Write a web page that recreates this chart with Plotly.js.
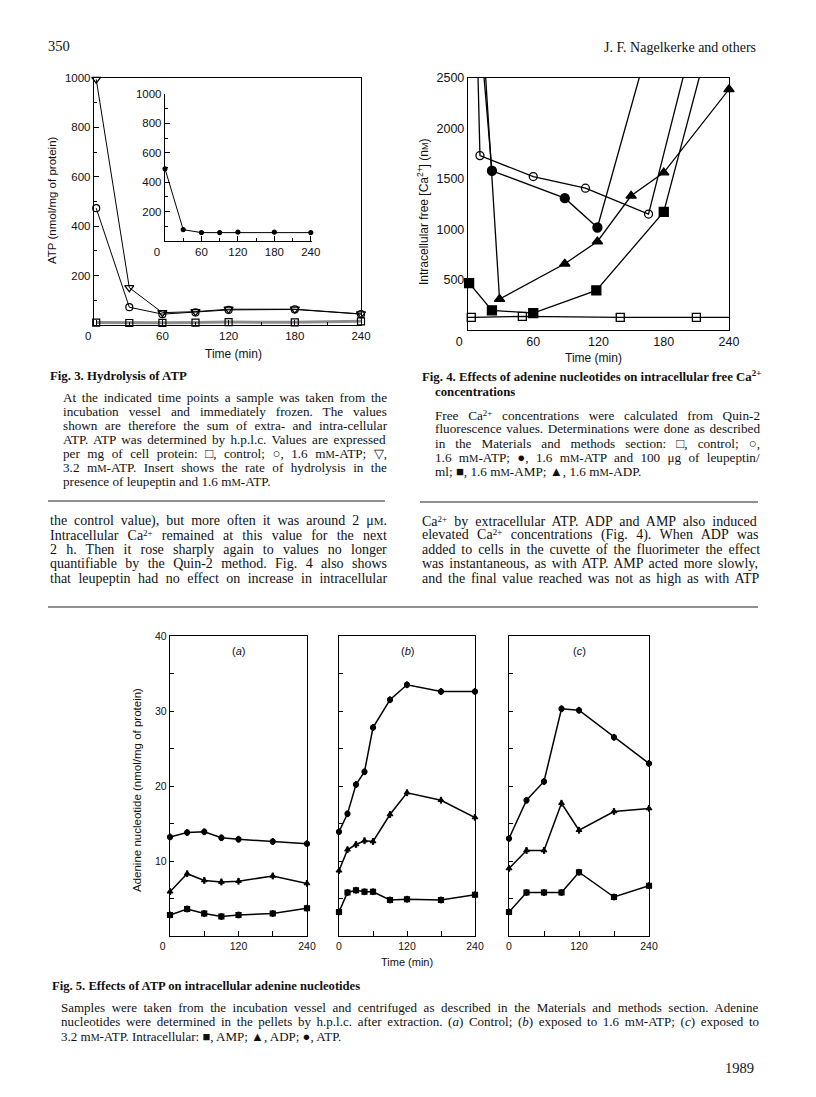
<!DOCTYPE html>
<html><head><meta charset="utf-8">
<script src="https://cdn.plot.ly/plotly-3.0.1.min.js"></script>
<style>html,body{margin:0;padding:0;background:#fff}#chart{width:816px;height:1097px}</style>
</head><body><div id="chart"></div>
<script>
// ---------- Fig. 3 data (ATP, nmol/mg of protein) ----------
const fig3Time = [0, 30, 60, 90, 120, 180, 240];
const fig3Control = [10, 8, 9, 10, 12, 11, 15];
const fig3Atp16 = [473, 72, 44, 51, 61, 63, 44];
const fig3Atp32 = [995, 151, 50, 54, 64, 64, 45];
const fig3InsetTime = [0, 30, 60, 90, 120, 180, 240];
const fig3InsetLeup = [491, 77, 57, 57, 60, 60, 57];
const fig3XTicks = [0, 60, 120, 180, 240];
const fig3YTicks = [200, 400, 600, 800, 1000];

// ---------- Fig. 4 data (intracellular free Ca2+, nM) ----------
const fig4CtrlTime = [0, 3, 50, 140, 210, 240];
const fig4CtrlVals = [125, 125, 135, 125, 125, 125];
const fig4Atp16Time = [9, 11, 60, 108, 166, 200];
const fig4Atp16Vals = [2600, 1730, 1522, 1407, 1150, 2600];
const fig4LeupTime = [14, 22, 89, 119, 160];
const fig4LeupVals = [2600, 1580, 1308, 1017, 2600];
const fig4AmpTime = [1, 22, 60, 118, 180, 215];
const fig4AmpVals = [466, 195, 168, 393, 1172, 2600];
const fig4AdpTime = [15.7, 29, 89, 119, 150, 180, 240];
const fig4AdpVals = [2600, 307, 657, 878, 1331, 1562, 2388];
const fig4XTicks = [0, 60, 120, 180, 240];
const fig4YTicks = [500, 1000, 1500, 2000, 2500];

// ---------- Fig. 5 data (adenine nucleotide, nmol/mg of protein) ----------
const fig5aTime = [0, 30, 60, 90, 120, 180, 240];
const fig5aATP = [13.2, 13.8, 13.9, 13.1, 12.9, 12.6, 12.3];
const fig5aADP = [5.9, 8.3, 7.4, 7.2, 7.3, 8.0, 7.0];
const fig5aAMP = [2.8, 3.6, 3.0, 2.6, 2.8, 3.0, 3.7];
const fig5bTime = [0, 15, 30, 45, 60, 90, 120, 180, 240];
const fig5bATP = [13.9, 16.3, 20.2, 21.9, 27.8, 31.5, 33.5, 32.6, 32.6];
const fig5bADP = [8.7, 11.5, 12.2, 12.7, 12.6, 16.2, 19.1, 18.1, 15.8];
const fig5bAMP = [3.2, 5.8, 6.1, 5.9, 5.9, 4.8, 4.9, 4.8, 5.5];
const fig5cTime = [0, 30, 60, 90, 120, 180, 240];
const fig5cATP = [13.0, 18.1, 20.6, 30.3, 30.1, 26.5, 23.0];
const fig5cADP = [9.0, 11.4, 11.4, 17.7, 14.1, 16.6, 17.0];
const fig5cAMP = [3.2, 5.8, 5.8, 5.8, 8.5, 5.2, 6.7];
const fig5XTicks = [0, 120, 240];
const fig5YTicks = [10, 20, 30, 40];
const panelLabels = ['(<i>a</i>)', '(<i>b</i>)', '(<i>c</i>)'];

// ---------- page geometry helpers ----------
const W = 816, H = 1097;
const PX = p => p / W;
const PY = p => 1 - p / H;
const SANS = 'Liberation Sans, Arial, sans-serif';
const SERIF = 'Liberation Serif, Times New Roman, serif';
const CSERIF = '"Liberation Serif", serif';
const MM = s => 'm<span style="font-size:' + s + 'px">M</span>';
const UM = s => 'μ<span style="font-size:' + s + 'px">M</span>';
const CA = 'Ca<span style="font-size:9px;baseline-shift:4px">2+</span>';
// origin label printed left of the axis corner, as in the original
const originText = ticks => ticks.map((v, i) => i === 0 ? String(v) + '\u00a0'.repeat(5) : String(v));

const traces = [];
function series(x, y, xa, ya, sym, size, opts = {}) {
  traces.push({
    type: 'scatter', mode: 'lines+markers', x, y, xaxis: xa, yaxis: ya,
    cliponaxis: false, hoverinfo: 'skip',
    line: { color: opts.lineColor || '#000', width: opts.lineWidth || 1.2 },
    marker: { symbol: sym, size, color: opts.markerColor || '#000',
      line: { color: opts.markerLine || '#000', width: opts.mlw || 1.2 } },
    error_y: opts.err ? { type: 'constant', value: opts.err, thickness: 2.2, width: 0, color: '#000' } : undefined
  });
}
// Fig 3
series(fig3Time, fig3Control, 'x', 'y', 'square-open', 7, { lineColor: '#8c8c8c', lineWidth: 3, markerLine: '#333', mlw: 1.2 });
series(fig3Time, fig3Atp16, 'x', 'y', 'circle-open', 7, { lineWidth: 1 });
series(fig3Time, fig3Atp32, 'x', 'y', 'triangle-down-open', 8, { lineWidth: 1 });
series(fig3InsetTime, fig3InsetLeup, 'x2', 'y2', 'circle', 4, { lineWidth: 1 });

// Fig 4: lines clipped to the frame, markers only where inside range
function series4(x, y, sym, size, markerOnly) {
  traces.push({ type: 'scatter', mode: 'lines', x, y, xaxis: 'x3', yaxis: 'y3', cliponaxis: true,
    hoverinfo: 'skip', line: { color: '#000', width: 1.3 } });
  const mx = [], my = [];
  x.forEach((v, i) => { if (y[i] <= 2500 && markerOnly(i)) { mx.push(v); my.push(y[i]); } });
  traces.push({ type: 'scatter', mode: 'markers', x: mx, y: my, xaxis: 'x3', yaxis: 'y3', cliponaxis: false,
    hoverinfo: 'skip', marker: { symbol: sym, size, color: '#000', line: { color: '#000', width: 1.3 } } });
}
series4(fig4CtrlTime, fig4CtrlVals, 'square-open', 8, i => i > 0 && i < fig4CtrlTime.length - 1);
series4(fig4Atp16Time, fig4Atp16Vals, 'circle-open', 8, () => true);
series4(fig4LeupTime, fig4LeupVals, 'circle', 9, () => true);
series4(fig4AmpTime, fig4AmpVals, 'square', 9, () => true);
series4(fig4AdpTime, fig4AdpVals, 'triangle-up', 9, () => true);

// Fig 5
const f5 = [
  [fig5aTime, fig5aATP, fig5aADP, fig5aAMP, 'x4', 'y4'],
  [fig5bTime, fig5bATP, fig5bADP, fig5bAMP, 'x5', 'y5'],
  [fig5cTime, fig5cATP, fig5cADP, fig5cAMP, 'x6', 'y6']
];
f5.forEach(([t, atp, adp, amp, xa, ya]) => {
  series(t, atp, xa, ya, 'circle', 5, { lineWidth: 1.5, err: 0.45 });
  series(t, adp, xa, ya, 'triangle-up', 5, { lineWidth: 1.5, err: 0.45 });
  series(t, amp, xa, ya, 'square', 5, { lineWidth: 1.5, err: 0.45 });
});

// ---------- axes ----------
function ax(domain, range, extra = {}) {
  return Object.assign({
    domain, range, showline: true, linecolor: '#000', linewidth: 1.2, mirror: true,
    showgrid: false, zeroline: false, ticks: 'inside', ticklen: 5, tickwidth: 1, tickcolor: '#000',
    tickfont: { family: SANS, size: 11.5, color: '#111' }, fixedrange: true
  }, extra);
}
const minor = (d) => ({ tickmode: 'linear', tick0: 0, dtick: d, ticks: 'inside', ticklen: 3, tickcolor: '#000' });
const f5font = { family: SANS, size: 10.5, color: '#111' };
const f4font = { family: SANS, size: 12.5, color: '#111' };
const layout = {
  width: W, height: H, margin: { l: 0, r: 0, t: 0, b: 0 }, showlegend: false,
  paper_bgcolor: '#fff', plot_bgcolor: 'rgba(0,0,0,0)',
  xaxis: ax([PX(94), PX(361)], [-2, 240], { anchor: 'y', tickmode: 'array', tickvals: fig3XTicks, ticktext: originText(fig3XTicks), minor: minor(30) }),
  yaxis: ax([PY(325), PY(78)], [0, 1000], { anchor: 'x', tickmode: 'array', tickvals: fig3YTicks, minor: minor(100) }),
  xaxis2: ax([PX(165), PX(312)], [0, 242], { anchor: 'y2', mirror: false, tickmode: 'array', tickvals: fig3XTicks, ticktext: originText(fig3XTicks), minor: minor(30) }),
  yaxis2: ax([PY(241), PY(94)], [0, 1000], { anchor: 'x2', mirror: false, tickmode: 'array', tickvals: fig3YTicks, minor: minor(100) }),
  xaxis3: ax([PX(468), PX(729)], [0, 240], { anchor: 'y3', tickmode: 'array', tickvals: fig4XTicks, ticktext: originText(fig4XTicks), ticklen: 0, tickfont: f4font }),
  yaxis3: ax([PY(330), PY(78)], [0, 2500], { anchor: 'x3', tickmode: 'array', tickvals: fig4YTicks, ticklen: 0, tickfont: f4font }),
  xaxis4: ax([PX(170), PX(307)], [0, 240], { anchor: 'y4', tickmode: 'array', tickvals: fig5XTicks, ticktext: originText(fig5XTicks), minor: Object.assign(minor(60), { ticklen: 5 }), tickfont: f5font }),
  yaxis4: ax([PY(936), PY(636)], [0, 40], { anchor: 'x4', tickmode: 'array', tickvals: fig5YTicks, ticklen: 4, minor: Object.assign(minor(5), { ticklen: 4 }), tickfont: f5font }),
  xaxis5: ax([PX(339), PX(475)], [0, 240], { anchor: 'y5', tickmode: 'array', tickvals: fig5XTicks, minor: Object.assign(minor(60), { ticklen: 5 }), tickfont: f5font }),
  yaxis5: ax([PY(936), PY(636)], [0, 40], { anchor: 'x5', tickmode: 'array', tickvals: fig5YTicks, showticklabels: false, ticklen: 4, minor: Object.assign(minor(5), { ticklen: 4 }) }),
  xaxis6: ax([PX(509), PX(649)], [0, 240], { anchor: 'y6', tickmode: 'array', tickvals: fig5XTicks, minor: Object.assign(minor(60), { ticklen: 5 }), tickfont: f5font }),
  yaxis6: ax([PY(936), PY(636)], [0, 40], { anchor: 'x6', tickmode: 'array', tickvals: fig5YTicks, showticklabels: false, ticklen: 4, minor: Object.assign(minor(5), { ticklen: 4 }) }),
  annotations: [],
  shapes: []
};

// ---------- text ----------
function txt(x, y, text, size, opts = {}) {
  layout.annotations.push(Object.assign({
    xref: 'paper', yref: 'paper', x: PX(x), y: PY(y), text, showarrow: false,
    xanchor: 'left', yanchor: 'middle',
    font: { family: opts.family || SERIF, size, color: '#111' }
  }, opts.extra || {}));
}
const ctx = document.createElement('canvas').getContext('2d');
function measureHTML(html, size) {
  let w = 0; const stack = [{ size, italic: false, bold: false }];
  const re = /<(\/?)(\w+)([^>]*)>|([^<]+)/g; let m;
  while ((m = re.exec(html))) {
    const top = stack[stack.length - 1];
    if (m[4] !== undefined) {
      ctx.font = (top.italic ? 'italic ' : '') + (top.bold ? 'bold ' : '') + top.size + 'px ' + CSERIF;
      w += ctx.measureText(m[4]).width;
    } else if (m[1]) { if (stack.length > 1) stack.pop(); }
    else {
      const n = { size: top.size, italic: top.italic, bold: top.bold };
      if (m[2] === 'sup' || m[2] === 'sub') n.size = top.size * 0.7;
      if (m[2] === 'i') n.italic = true;
      if (m[2] === 'b') n.bold = true;
      const fs = /font-size:\s*([\d.]+)px/.exec(m[3]); if (fs) n.size = +fs[1];
      stack.push(n);
    }
  }
  return w;
}
function block(lines, x0, x1, y0, dy, size, lastJustified) {
  lines.forEach((l, i) => {
    const y = y0 + i * dy;
    const justify = lastJustified || i < lines.length - 1;
    if (!justify) { txt(x0, y, l, size); return; }
    const w = measureHTML(l, size);
    const spaces = (l.replace(/<[^>]*>/g, '').match(/ /g) || []).length;
    const ws = spaces ? Math.max(-1, (x1 - x0 - w) / spaces) : 0;
    txt(x0, y, '<span style="word-spacing:' + ws.toFixed(2) + 'px">' + l + '</span>', size);
  });
}

// axis titles
txt(233, 354, 'Time (min)', 12, { family: SANS, extra: { xanchor: 'center' } });
txt(52, 200, 'ATP (nmol/mg of protein)', 11.5, { family: SANS, extra: { xanchor: 'center', textangle: -90 } });
txt(593, 358, 'Time (min)', 12, { family: SANS, extra: { xanchor: 'center' } });
txt(423, 212, 'Intracellular free [Ca<sup>2+</sup>] (n<span style="font-size:9px">M</span>)', 12, { family: SANS, extra: { xanchor: 'center', textangle: -90 } });
txt(407, 962, 'Time (min)', 11, { family: SANS, extra: { xanchor: 'center' } });
txt(137, 790, 'Adenine nucleotide (nmol/mg of protein)', 11.5, { family: SANS, extra: { xanchor: 'center', textangle: -90 } });
const panelCenters = [238.5, 407, 579];
panelLabels.forEach((p, i) => txt(panelCenters[i], 651, p, 11, { family: SANS, extra: { xanchor: 'center' } }));

// header
txt(46, 46, '350', 14.5);
txt(758, 47, 'J. F. Nagelkerke and others', 14, { extra: { xanchor: 'right' } });

// Fig 3 caption
txt(48, 376, '<b>Fig. 3. Hydrolysis of ATP</b>', 12.8);
const cap3 = [
  'At the indicated time points a sample was taken from the',
  'incubation vessel and immediately frozen. The values',
  'shown are therefore the sum of extra- and intra-cellular',
  'ATP. ATP was determined by h.p.l.c. Values are expressed',
  'per mg of cell protein: □, control; ○, 1.6 ' + MM(10.5) + '-ATP; ▽,',
  '3.2 ' + MM(10.5) + '-ATP. Insert shows the rate of hydrolysis in the',
  'presence of leupeptin and 1.6 ' + MM(10.5) + '-ATP.'
];
block(cap3, 61, 385, 397, 14.1, 13.2, false);

// Fig 4 caption
txt(420, 376, '<b>Fig. 4. Effects of adenine nucleotides on intracellular free Ca<sup>2+</sup></b>', 12.8);
txt(433, 392, '<b>concentrations</b>', 12.8);
const cap4 = [
  'Free ' + CA + ' concentrations were calculated from Quin-2',
  'fluorescence values. Determinations were done as described',
  'in the Materials and methods section: □, control; ○,',
  '1.6 ' + MM(10.5) + '-ATP; ●, 1.6 ' + MM(10.5) + '-ATP and 100 μg of leupeptin/',
  'ml; ■, 1.6 ' + MM(10.5) + '-AMP; ▲, 1.6 ' + MM(10.5) + '-ADP.'
];
block(cap4, 433, 758, 415, 14, 13.2, false);

// body text
const bodyL = [
  'the control value), but more often it was around 2 ' + UM(11) + '.',
  'Intracellular ' + CA + ' remained at this value for the next',
  '2 h. Then it rose sharply again to values no longer',
  'quantifiable by the Quin-2 method. Fig. 4 also shows',
  'that leupeptin had no effect on increase in intracellular'
];
const bodyR = [
  CA + ' by extracellular ATP. ADP and AMP also induced',
  'elevated ' + CA + ' concentrations (Fig. 4). When ADP was',
  'added to cells in the cuvette of the fluorimeter the effect',
  'was instantaneous, as with ATP. AMP acted more slowly,',
  'and the final value reached was not as high as with ATP'
];
block(bodyL, 48, 385, 521, 14.3, 14, true);
block(bodyR, 420, 758, 521, 14.3, 14, true);

// Fig 5 caption
txt(50, 986, '<b>Fig. 5. Effects of ATP on intracellular adenine nucleotides</b>', 12.6);
const cap5 = [
  'Samples were taken from the incubation vessel and centrifuged as described in the Materials and methods section. Adenine',
  'nucleotides were determined in the pellets by h.p.l.c. after extraction. (<i>a</i>) Control; (<i>b</i>) exposed to 1.6 ' + MM(10) + '-ATP; (<i>c</i>) exposed to',
  '3.2 ' + MM(10) + '-ATP. Intracellular: ■, AMP; ▲, ADP; ●, ATP.'
];
block(cap5, 59, 757, 1007, 14.5, 13, false);
txt(756, 1068, '1989', 14.5, { extra: { xanchor: 'right' } });

// rules
function hr(x0, x1, y) {
  layout.shapes.push({ type: 'line', xref: 'paper', yref: 'paper', x0: PX(x0), x1: PX(x1), y0: PY(y), y1: PY(y),
    line: { color: '#222', width: 1.2 } });
}
hr(48, 385, 501);
hr(420, 758, 502);
hr(48, 758, 607);

Plotly.newPlot('chart', traces, layout, { staticPlot: true, displayModeBar: false });
</script></body></html>
